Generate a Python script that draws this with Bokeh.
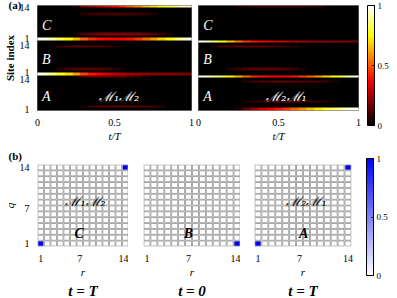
import numpy as np
from bokeh.plotting import figure
from bokeh.models import (LinearColorMapper, ColorBar, FixedTicker, Label, Title,
                          Range1d, ColumnDataSource)
from bokeh.layouts import row, column
from bokeh.embed import file_html
from bokeh.resources import INLINE
from bokeh.transform import linear_cmap

# ---------------- data ----------------
t_samples = [0.0, 0.05, 0.1, 0.15, 0.2, 0.25, 0.3, 0.35, 0.4, 0.45, 0.5,
             0.55, 0.6, 0.65, 0.7, 0.75, 0.8, 0.85, 0.9, 0.95, 1.0]
n_sites = 42  # A: 1-14, B: 15-28, C: 29-42
site_ticks = [1, 13, 15.8, 26.5, 29.3, 41.7]
site_tick_labels = ["1", "14", "1", "14", "1", "14"]
t_ticks = [0, 0.5, 1]

# panel M1M2: site row -> density at t_samples
m1m2_rows = {
    42: [0, 0, 0, 0, 0, 0.05, 0.16, 0.22, 0.28, 0.33, 0.38, 0.44, 0.5, 0.57, 0.64, 0.7, 0.76, 0.82, 0.88, 0.95, 1.0],
    39: [0, 0, 0, 0, 0, 0, 0.05, 0.08, 0.1, 0.1, 0.11, 0.1, 0.1, 0.09, 0.07, 0.04, 0, 0, 0, 0, 0],
    31: [0, 0, 0, 0, 0, 0.04, 0.1, 0.14, 0.17, 0.18, 0.19, 0.19, 0.18, 0.17, 0.15, 0.12, 0.08, 0.04, 0, 0, 0],
    29: [1.0, 0.96, 0.9, 0.82, 0.74, 0.64, 0.52, 0.44, 0.4, 0.38, 0.37, 0.38, 0.4, 0.45, 0.52, 0.6, 0.68, 0.76, 0.85, 0.93, 1.0],
    26: [0, 0, 0.04, 0.1, 0.13, 0.14, 0.14, 0.13, 0.12, 0.1, 0.06, 0.03, 0, 0, 0, 0, 0, 0, 0, 0, 0],
    17: [0, 0, 0, 0.06, 0.1, 0.12, 0.13, 0.13, 0.12, 0.1, 0.06, 0.03, 0, 0, 0, 0, 0, 0, 0, 0, 0],
    15: [1.0, 0.95, 0.86, 0.78, 0.7, 0.6, 0.48, 0.4, 0.35, 0.3, 0.27, 0.25, 0.23, 0.22, 0.21, 0.2, 0.2, 0.19, 0.19, 0.18, 0.18],
    14: [0, 0, 0, 0, 0, 0.05, 0.12, 0.15, 0.16, 0.16, 0.15, 0.14, 0.12, 0.08, 0.04, 0, 0, 0, 0, 0, 0],
    2:  [0, 0, 0, 0, 0, 0, 0.05, 0.1, 0.12, 0.13, 0.14, 0.14, 0.14, 0.13, 0.12, 0.1, 0.06, 0, 0, 0, 0],
}
# panel M2M1
m2m1_rows = {
    42: [0, 0, 0, 0, 0, 0.04, 0.07, 0.08, 0.09, 0.1, 0.1, 0.1, 0.1, 0.09, 0.08, 0.06, 0.03, 0, 0, 0, 0],
    28: [1.0, 0.95, 0.86, 0.76, 0.66, 0.55, 0.45, 0.4, 0.36, 0.33, 0.3, 0.28, 0.26, 0.24, 0.22, 0.21, 0.2, 0.2, 0.19, 0.18, 0.18],
    26: [0, 0, 0.05, 0.1, 0.13, 0.14, 0.14, 0.14, 0.13, 0.12, 0.1, 0.08, 0.05, 0.02, 0, 0, 0, 0, 0, 0, 0],
    17: [0, 0, 0, 0, 0.05, 0.08, 0.12, 0.13, 0.14, 0.14, 0.13, 0.11, 0.08, 0.04, 0, 0, 0, 0, 0, 0, 0],
    14: [1.0, 0.96, 0.9, 0.82, 0.74, 0.64, 0.52, 0.44, 0.4, 0.38, 0.37, 0.38, 0.4, 0.45, 0.52, 0.6, 0.68, 0.76, 0.85, 0.93, 1.0],
    12: [0, 0, 0, 0, 0, 0, 0.06, 0.1, 0.13, 0.14, 0.15, 0.15, 0.15, 0.14, 0.13, 0.11, 0.08, 0.04, 0, 0, 0],
    4:  [0, 0, 0, 0, 0, 0, 0.05, 0.08, 0.1, 0.12, 0.12, 0.12, 0.12, 0.11, 0.1, 0.08, 0.05, 0.03, 0, 0, 0],
    1:  [0, 0, 0, 0, 0, 0.04, 0.14, 0.22, 0.3, 0.35, 0.4, 0.45, 0.52, 0.58, 0.65, 0.72, 0.8, 0.86, 0.92, 0.97, 1.0],
}

# panel (b): occupied lattice cells (r, q, weight)
grid_n = 14
grid_ticks = [1, 7, 14]
cells_T_m1m2 = [(1, 1, 1.0), (14, 14, 1.0)]
cells_0 = [(14, 1, 1.0)]
cells_T_m2m1 = [(1, 1, 1.0), (14, 14, 1.0)]

# ---------------- styles ----------------
SERIF = "Liberation Serif"
MATHF = "DejaVu Serif"


def hot_palette(n=256):
    pal = []
    for i in range(n):
        x = i / (n - 1)
        r = min(1.0, x / 0.375)
        g = min(1.0, max(0.0, (x - 0.375) / 0.375))
        b = min(1.0, max(0.0, (x - 0.75) / 0.25))
        pal.append("#%02x%02x%02x" % (int(r * 255), int(g * 255), int(b * 255)))
    return pal


def blue_palette(n=256):
    pal = []
    for i in range(n):
        x = i / (n - 1)
        c = int(round((1 - x) * 255))
        pal.append("#%02x%02x%02x" % (c, c, 255))
    return pal


HOT = hot_palette()
BLUE = blue_palette()
hot_mapper = LinearColorMapper(palette=HOT, low=0, high=1)
blue_mapper = LinearColorMapper(palette=BLUE, low=0, high=1)


def style_axes(p):
    for ax in p.axis:
        ax.major_label_text_font = SERIF
        ax.major_label_text_font_size = "10px"
        ax.major_label_text_color = "black"
        ax.axis_label_text_font = SERIF
        ax.axis_label_text_font_size = "11px"
        ax.axis_label_text_color = "black"
        ax.major_tick_line_color = None
        ax.minor_tick_line_color = None
        ax.axis_line_color = None
        ax.major_label_standoff = 2
        ax.axis_label_standoff = 1
    p.xgrid.visible = False
    p.ygrid.visible = False


def panel_tag(p, text, standoff):
    p.add_layout(Title(text=text, align="left", offset=-29, standoff=standoff,
                       text_font=SERIF, text_font_size="11px",
                       text_font_style="bold", text_color="black"), "above")


def heat_fig(rows, width, left, right, show_y, name, name_x):
    p = figure(width=width, height=144, x_range=Range1d(0, 1),
               y_range=Range1d(0.5, n_sites + 0.5),
               output_backend="svg", toolbar_location=None,
               min_border_left=left, min_border_right=right,
               min_border_top=5, min_border_bottom=21,
               y_axis_location="left" if show_y else None)
    arr = np.zeros((n_sites, len(t_samples)))
    for site, vals in rows.items():
        arr[site - 1, :] = vals
    p.image(image=[arr], x=-0.025, y=0.5, dw=1.05, dh=n_sites,
            color_mapper=hot_mapper)
    p.background_fill_color = "black"
    p.outline_line_color = "#808080"
    p.xaxis.ticker = FixedTicker(ticks=t_ticks)
    p.xaxis.major_label_overrides = {0: "0", 0.5: "0.5", 1: "1"}
    p.xaxis.axis_label = "t/T"
    if show_y:
        p.yaxis.ticker = FixedTicker(ticks=site_ticks)
        p.yaxis.major_label_overrides = {k: v for k, v in zip(site_ticks, site_tick_labels)}
        p.yaxis.axis_label = "Site index"
    style_axes(p)
    p.xaxis.axis_label_text_font_style = "italic"
    if show_y:
        p.yaxis.axis_label_text_font_style = "bold"
    for txt, yy in (("C", 34.7), ("B", 20.8), ("A", 6.2)):
        p.add_layout(Label(x=0.03, y=yy, text=txt, text_color="white",
                           text_font=SERIF, text_font_size="14px",
                           text_font_style="italic", text_baseline="middle"))
    p.add_layout(Label(x=name_x, y=6.2, text=name, text_color="white",
                       text_font=MATHF, text_font_size="13px",
                       text_font_style="italic", text_baseline="middle",
                       text_align="center"))
    return p


def grid_fig(cells, width, left, right, show_y, letter, name, name_xy, letter_xy, tlabel):
    p = figure(width=width, height=154, x_range=Range1d(0.5, grid_n + 0.5),
               y_range=Range1d(0.5, grid_n + 0.5),
               output_backend="svg", toolbar_location=None,
               min_border_left=left, min_border_right=right,
               min_border_top=19, min_border_bottom=43,
               y_axis_location="left" if show_y else None)
    vals = np.zeros((grid_n, grid_n))
    for r, q, w in cells:
        vals[r - 1, q - 1] = w
    rr, qq, vv = [], [], []
    for r in range(1, grid_n + 1):
        for q in range(1, grid_n + 1):
            rr.append(r)
            qq.append(q)
            vv.append(vals[r - 1, q - 1])
    src = ColumnDataSource(dict(r=rr, q=qq, v=vv))
    p.rect("r", "q", width=0.88, height=0.88, source=src,
           fill_color=linear_cmap("v", BLUE, 0, 1),
           line_color="#a4a4a4", line_width=1)
    p.outline_line_color = None
    p.xaxis.ticker = FixedTicker(ticks=grid_ticks)
    p.xaxis.axis_label = "r"
    if show_y:
        p.yaxis.ticker = FixedTicker(ticks=grid_ticks)
        p.yaxis.axis_label = "q"
    style_axes(p)
    p.xaxis.axis_label_text_font_style = "italic"
    if show_y:
        p.yaxis.axis_label_text_font_style = "italic"
    p.add_layout(Label(x=letter_xy[0], y=letter_xy[1], text=letter,
                       text_color="black",
                       text_font=SERIF, text_font_size="14px",
                       text_font_style="bold italic", text_baseline="middle",
                       text_align="center"))
    if name:
        p.add_layout(Label(x=name_xy[0], y=name_xy[1], text=name,
                           text_color="black",
                           text_font=MATHF, text_font_size="13px",
                           text_font_style="italic", text_baseline="middle",
                           text_align="center"))
    p.add_layout(Title(text=tlabel, align="center", text_font=SERIF,
                       text_color="black",
                       text_font_size="15px", text_font_style="bold italic",
                       standoff=0, offset=0), "below")
    return p


F1 = heat_fig(m1m2_rows, 195, 31, 4, True, "ℳ₁ℳ₂", 0.53)
F2 = heat_fig(m2m1_rows, 168, 3, 5, False, "ℳ₂ℳ₁", 0.55)
panel_tag(F1, "(a)", -10)

G1 = grid_fig(cells_T_m1m2, 128, 31, 0, True, "C", "ℳ₁ℳ₂", (7.9, 8.1), (6.9, 2.8), "t = T")
G2 = grid_fig(cells_0, 112, 15, 0, False, "B", None, None, (7.0, 2.8), "t = 0")
G3 = grid_fig(cells_T_m2m1, 123, 14, 12, False, "A", "ℳ₂ℳ₁", (8.0, 8.1), (7.6, 2.8), "t = T")
panel_tag(G1, "(b)", 6)

CB = figure(width=34, height=298, x_range=Range1d(0, 1), y_range=Range1d(0, 1),
            output_backend="svg", toolbar_location=None,
            min_border_left=0, min_border_right=0, min_border_top=0, min_border_bottom=0,
            x_axis_location=None, y_axis_location=None)
CB.outline_line_color = None
CB.xgrid.visible = False
CB.ygrid.visible = False
for mapper, loc, h in ((hot_mapper, (4, 173), 120), (blue_mapper, (3, 23), 117)):
    cb = ColorBar(color_mapper=mapper, location=loc, width=7, height=h,
                  padding=0, margin=0, ticker=FixedTicker(ticks=[0, 0.5, 1]),
                  major_label_overrides={0: "0", 0.5: "0.5", 1: "1"},
                  major_label_text_font=SERIF, major_label_text_font_size="9px",
                  major_label_text_color="black",
                  label_standoff=3, bar_line_color="black", bar_line_width=1,
                  border_line_color=None,
                  major_tick_line_color="black", major_tick_in=2, major_tick_out=0,
                  background_fill_alpha=0)
    CB.add_layout(cb, "center")

layout = row(column(row(F1, F2), row(G1, G2, G3)), CB)
open("out.html", "w").write(file_html(layout, INLINE))
